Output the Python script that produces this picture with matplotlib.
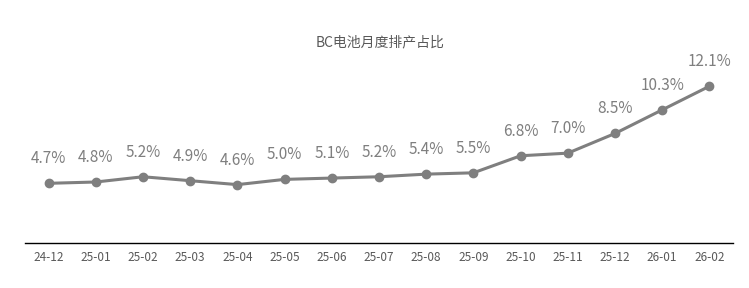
import matplotlib.pyplot as plt

plt.rcParams['font.family'] = ['Noto Sans CJK SC', 'DejaVu Sans']

months = ['24-12', '25-01', '25-02', '25-03', '25-04', '25-05', '25-06', '25-07',
          '25-08', '25-09', '25-10', '25-11', '25-12', '26-01', '26-02']
share = [4.7, 4.8, 5.2, 4.9, 4.6, 5.0, 5.1, 5.2, 5.4, 5.5, 6.8, 7.0, 8.5, 10.3, 12.1]

fig = plt.figure(figsize=(7.49, 2.88), dpi=100)
ax = fig.add_axes([25 / 749, 45 / 288, 708 / 749, 223 / 288])

x = range(len(months))
ax.plot(x, share, color='#7f7f7f', linewidth=2.2, marker='o', markersize=6)
for i, v in zip(x, share):
    ax.annotate(f'{v}%', (i, v), xytext=(0, 11.5), textcoords='offset points',
                ha='center', va='bottom', fontsize=11, color='#7f7f7f')

ax.set_xlim(-0.5, len(months) - 0.5)
ax.set_ylim(0.15, 17.15)
ax.set_xticks(list(x))
ax.set_xticklabels(months, fontsize=8.5, color='#595959')
ax.tick_params(axis='x', length=0, pad=6)
ax.set_yticks([])
for s in ['top', 'left', 'right']:
    ax.spines[s].set_visible(False)
ax.spines['bottom'].set_color('black')
ax.spines['bottom'].set_linewidth(1)

fig.text(380 / 749, 1 - 42 / 288, 'BC电池月度排产占比', ha='center', va='center',
         fontsize=10, color='#595959')

fig.savefig('out.png', dpi=100)
